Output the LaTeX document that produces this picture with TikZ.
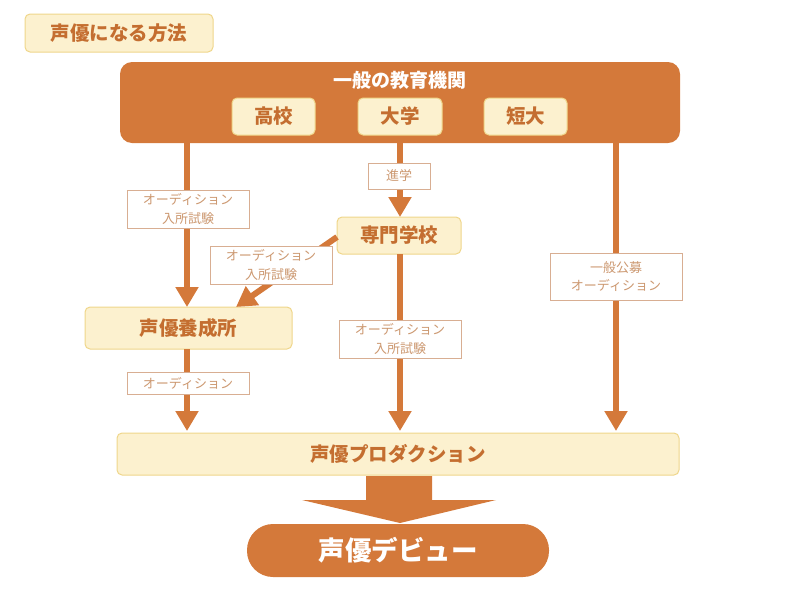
\documentclass[tikz,border=0pt]{standalone}
\usepackage{fontspec}
\setmainfont{Noto Sans CJK JP}
\usetikzlibrary{arrows.meta}
\definecolor{org}{HTML}{D4793A}
\definecolor{cream}{HTML}{FCF1CF}
\definecolor{creamb}{HTML}{EFD68A}
\definecolor{lbltxt}{HTML}{CC9870}
\definecolor{lblbd}{HTML}{D8AE92}
\definecolor{darktxt}{HTML}{C46E30}
\tikzset{
  cbox/.style={draw=creamb, fill=cream, rounded corners=5pt, line width=1pt, text=darktxt, font=\bfseries\fontsize{19.5}{22}\selectfont, inner sep=0pt},
  lbl/.style={draw=lblbd, fill=white, line width=1pt, text=lbltxt, font=\fontsize{13}{18.5}\selectfont, align=center, inner sep=0pt},
  arr/.style={draw=org, line width=6pt, -{Triangle[width=22pt,length=20pt]}},
}
\begin{document}
\begin{tikzpicture}[x=1pt,y=-1pt]
\useasboundingbox (0,0) rectangle (799,600);
% title
\node[cbox, minimum width=188pt, minimum height=38pt] (title) at (119,33) {声優になる方法};
% big box
\node[fill=org, rounded corners=12pt, minimum width=560pt, minimum height=81pt, inner sep=0pt] (edu) at (400,102.5) {};
\node[text=white, font=\bfseries\fontsize{19}{22}\selectfont] (edut) at (400,80) {一般の教育機関};
\node[cbox, minimum width=83pt, minimum height=37pt] (hs) at (273.5,116.5) {高校};
\node[cbox, minimum width=84pt, minimum height=37pt] (univ) at (400,116.5) {大学};
\node[cbox, minimum width=83pt, minimum height=37pt] (jc) at (525.5,116.5) {短大};
% mid nodes
\node[cbox, minimum width=124pt, minimum height=37pt] (sen) at (399,235.5) {専門学校};
\node[cbox, minimum width=207pt, minimum height=42pt] (yo) at (188.5,328) {声優養成所};
\node[cbox, minimum width=562pt, minimum height=42pt] (pro) at (398,454) {声優プロダクション};
\node[fill=org, rounded corners=26pt, minimum width=302pt, minimum height=53pt, inner sep=0pt, text=white, font=\bfseries\fontsize{26.5}{30}\selectfont] (deb) at (398,550.5) {声優デビュー};
% coordinates
\coordinate (a1s) at (187,143);
\coordinate (a1e) at (187,307);
\coordinate (a2s) at (400,143);
\coordinate (a2e) at (400,217);
\coordinate (a3s) at (337,237);
\coordinate (a3e) at (236,307);
\coordinate (a4s) at (187,349);
\coordinate (a4e) at (187,431);
\coordinate (a5s) at (400,254);
\coordinate (a5e) at (400,431);
\coordinate (a6s) at (616,143);
\coordinate (a6e) at (616,431);
% arrows
\draw[arr] (a1s) -- (a1e);
\draw[arr] (a2s) -- (a2e);
\draw[arr] (a3s) -- (a3e);
\draw[arr] (a4s) -- (a4e);
\draw[arr] (a5s) -- (a5e);
\draw[arr] (a6s) -- (a6e);
% big arrow
\fill[org] (366,476) -- (432,476) -- (432,500) -- (496,500) -- (400,523) -- (302,500) -- (366,500) -- cycle;
% labels
\node[lbl, minimum width=122pt, minimum height=38pt] (l1) at (188,209) {オーディション\\入所試験};
\node[lbl, minimum width=62pt, minimum height=26pt] (l2) at (399,176) {進学};
\node[lbl, minimum width=122pt, minimum height=38pt] (l3) at (271,265) {オーディション\\入所試験};
\node[lbl, minimum width=122pt, minimum height=22pt] (l4) at (188,383.5) {オーディション};
\node[lbl, minimum width=122pt, minimum height=38pt] (l5) at (400,339) {オーディション\\入所試験};
\node[lbl, minimum width=132pt, minimum height=47pt] (l6) at (616,276.5) {一般公募\\オーディション};
\end{tikzpicture}
\end{document}
